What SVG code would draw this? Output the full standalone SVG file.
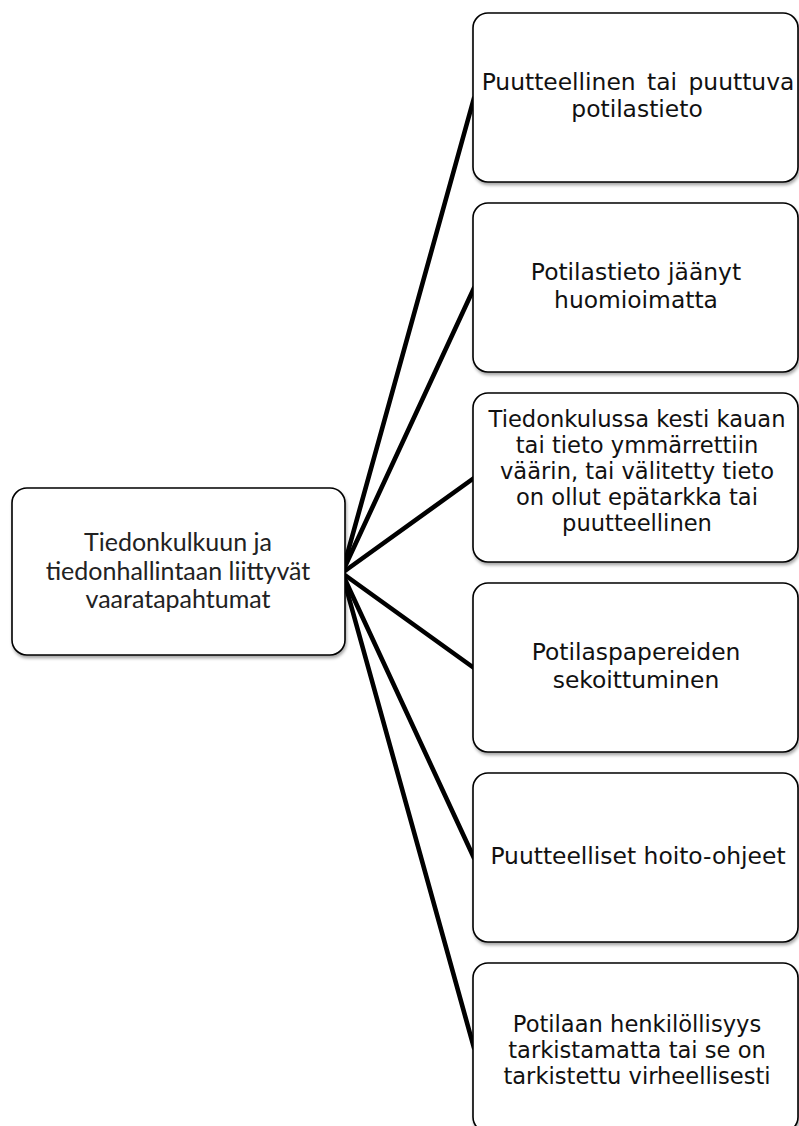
<svg xmlns="http://www.w3.org/2000/svg" width="799" height="1126" viewBox="0 0 799 1126">
<style>
.box{fill:#fff;stroke:#000;stroke-width:1.6;filter:url(#sh)}
.conn{stroke:#000;stroke-width:4.6;fill:none;stroke-linecap:round}
.lt{font-family:Lato,"Liberation Sans",sans-serif;font-size:25px;fill:#222;text-anchor:middle}
.rt{font-family:"DejaVu Sans",Verdana,sans-serif;font-size:23.4px;fill:#111;text-anchor:middle}
.rs{font-size:22.6px}
</style>
<defs>
<filter id="sh" x="-5%" y="-5%" width="110%" height="115%">
<feDropShadow dx="1" dy="2.5" stdDeviation="1.5" flood-color="#000" flood-opacity="0.35"/>
</filter>
</defs>
<rect width="799" height="1126" fill="#fff"/>
<g id="connectors">
<line class="conn" x1="342" y1="573" x2="474" y2="98"/>
<line class="conn" x1="342" y1="573" x2="474" y2="288"/>
<line class="conn" x1="342" y1="573" x2="474" y2="478"/>
<line class="conn" x1="342" y1="573" x2="474" y2="668"/>
<line class="conn" x1="342" y1="573" x2="474" y2="858"/>
<line class="conn" x1="342" y1="573" x2="474" y2="1048"/>
</g>
<g id="root">
<rect class="box" x="12" y="488" width="333" height="167" rx="15"/>
<text class="lt" x="178" y="551">Tiedonkulkuun ja</text>
<text class="lt" x="178" y="580">tiedonhallintaan liittyvät</text>
<text class="lt" x="178" y="608">vaaratapahtumat</text>
</g>
<g id="n1">
<rect class="box" x="473" y="13" width="325" height="169" rx="15"/>
<text class="rt" x="638" y="90" word-spacing="4">Puutteellinen tai puuttuva</text>
<text class="rt" x="637" y="117">potilastieto</text>
</g>
<g id="n2">
<rect class="box" x="473" y="203" width="325" height="169" rx="15"/>
<text class="rt" x="636" y="280">Potilastieto jäänyt</text>
<text class="rt" x="636" y="308">huomioimatta</text>
</g>
<g id="n3">
<rect class="box" x="473" y="393" width="325" height="169" rx="15"/>
<text class="rt rs" x="637" y="427">Tiedonkulussa kesti kauan</text>
<text class="rt rs" x="637" y="453">tai tieto ymmärrettiin</text>
<text class="rt rs" x="637" y="479">väärin, tai välitetty tieto</text>
<text class="rt rs" x="637" y="505">on ollut epätarkka tai</text>
<text class="rt rs" x="637" y="531">puutteellinen</text>
</g>
<g id="n4">
<rect class="box" x="473" y="583" width="325" height="169" rx="15"/>
<text class="rt" x="636" y="660">Potilaspapereiden</text>
<text class="rt" x="636" y="688">sekoittuminen</text>
</g>
<g id="n5">
<rect class="box" x="473" y="773" width="325" height="169" rx="15"/>
<text class="rt" x="638" y="864">Puutteelliset hoito-ohjeet</text>
</g>
<g id="n6">
<rect class="box" x="473" y="963" width="325" height="169" rx="15"/>
<text class="rt rs" x="637" y="1032">Potilaan henkilöllisyys</text>
<text class="rt rs" x="637" y="1058">tarkistamatta tai se on</text>
<text class="rt rs" x="637" y="1084">tarkistettu virheellisesti</text>
</g>
</svg>
